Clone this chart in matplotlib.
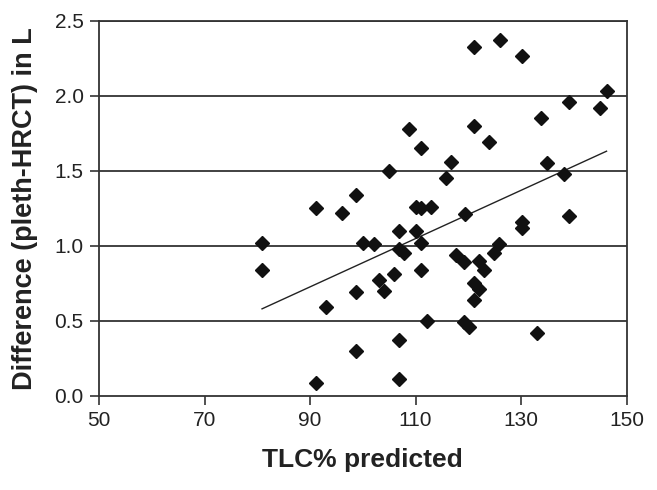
import matplotlib
matplotlib.use("Agg")
import matplotlib.pyplot as plt

tlc = [80.8, 80.8, 91.1, 91.1, 93.0, 96.0, 98.8, 98.8, 98.8, 100.1,
       102.1, 103.0, 104.0, 105.0, 105.9, 106.9, 106.9, 106.9, 106.9, 107.8,
       108.8, 110.0, 110.0, 111.0, 111.0, 111.0, 111.0, 112.1, 113.0, 115.8,
       116.8, 117.7, 119.1, 119.1, 119.3, 120.1, 121.0, 121.0, 121.1, 121.1,
       122.0, 122.0, 122.9, 123.9, 124.9, 125.8, 126.0, 130.1, 130.1, 130.1,
       133.0, 133.8, 134.9, 138.1, 139.0, 139.0, 144.9, 146.2]
diff = [1.02, 0.84, 1.25, 0.085, 0.59, 1.22, 1.34, 0.69, 0.30, 1.02,
        1.01, 0.77, 0.70, 1.50, 0.81, 1.10, 0.98, 0.37, 0.11, 0.95,
        1.78, 1.26, 1.10, 1.25, 1.02, 0.84, 1.65, 0.50, 1.26, 1.45,
        1.56, 0.94, 0.89, 0.49, 1.215, 0.46, 0.75, 0.64, 1.80, 2.325,
        0.90, 0.71, 0.84, 1.69, 0.95, 1.01, 2.37, 2.265, 1.16, 1.12,
        0.42, 1.85, 1.55, 1.475, 1.96, 1.20, 1.92, 2.03]

fit_x = [80.9, 146.2]
fit_y = [0.58, 1.63]

x_ticks = [50, 70, 90, 110, 130, 150]
y_ticks = [0.0, 0.5, 1.0, 1.5, 2.0, 2.5]

plt.rcParams['font.family'] = ['Liberation Sans', 'DejaVu Sans']

fig = plt.figure(figsize=(6.57, 4.90), dpi=100)
ax = fig.add_axes([0.1507, 0.192, 0.803, 0.766])

for yv in y_ticks[1:]:
    ax.axhline(yv, color='#333333', lw=1.3, zorder=1)

ax.plot(fit_x, fit_y, color='#222222', lw=1.0, zorder=2)
ax.plot(tlc, diff, linestyle='none', marker='D', markersize=7.5,
        color='#111111', zorder=3)

ax.set_xlim(50, 150)
ax.set_ylim(0, 2.5)
ax.set_xticks(x_ticks)
ax.set_yticks(y_ticks)
ax.set_yticklabels([f"{v:.1f}" for v in y_ticks])
for s in ['left', 'bottom', 'right', 'top']:
    ax.spines[s].set_color('#333333')
    ax.spines[s].set_linewidth(1.3)
ax.tick_params(axis='both', direction='out', length=6.5, width=1.2,
               colors='#333333', labelsize=15, labelcolor='#222222')
ax.tick_params(axis='y', pad=4.5)
ax.tick_params(axis='x', pad=4.5)

ax.set_xlabel("TLC% predicted", fontsize=19, fontweight='bold',
              color='#222222', labelpad=13)
ax.set_ylabel("Difference (pleth-HRCT) in L", fontsize=19.5, fontweight='bold',
              color='#222222', labelpad=12)

fig.savefig("out.png", dpi=100)
